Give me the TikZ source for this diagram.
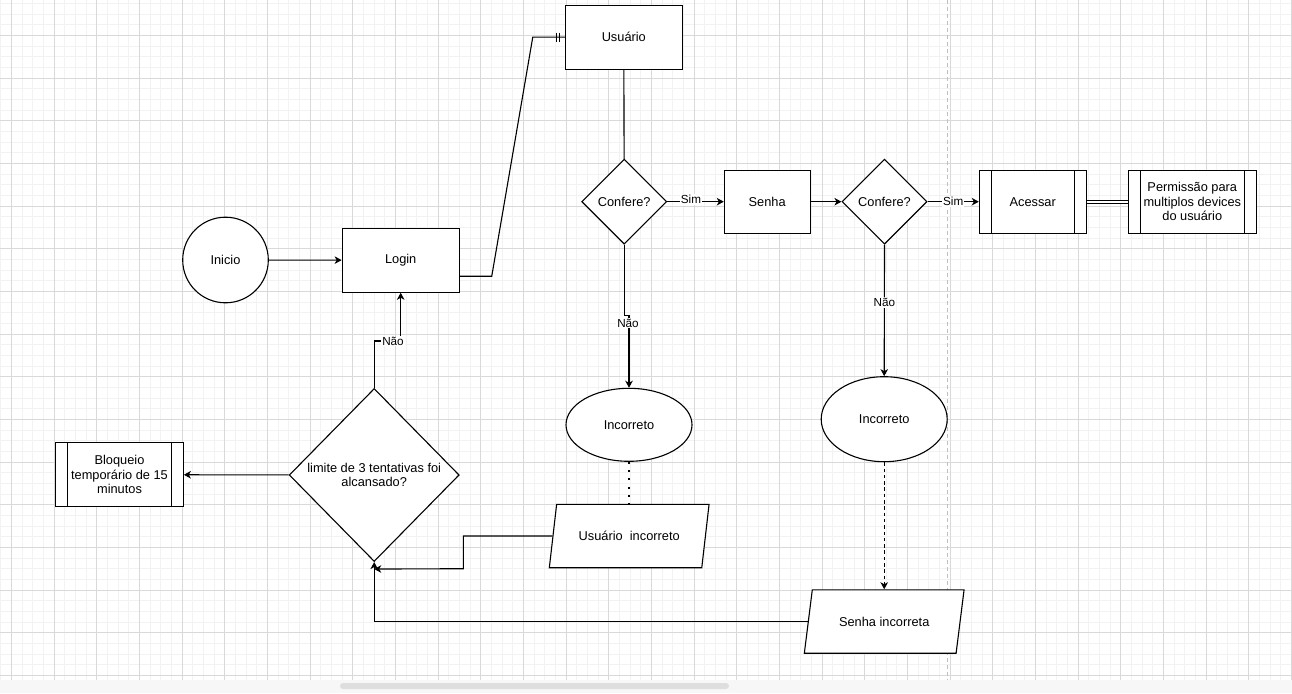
\documentclass[tikz,border=0pt]{standalone}
\usepackage{fontspec}
\setmainfont{Liberation Sans}
\usetikzlibrary{arrows.meta,shapes.geometric,calc}

\newcommand{\nodefont}{\fontsize{12.8}{14.6}\selectfont}
\newcommand{\lblfont}{\fontsize{11.7}{13}\selectfont}

\begin{document}
\begin{tikzpicture}[x=1pt,y=-1pt,
  minorgrid/.style={draw=black!5,line width=0.8pt},
  majorgrid/.style={draw=black!15,line width=0.9pt},
  box/.style={draw,fill=white,line width=1.1pt,inner sep=2pt,font=\nodefont,align=center,minimum width=117pt,minimum height=64pt},
  proc/.style={box,path picture={
      \draw[line width=1.1pt] ([xshift=12pt]path picture bounding box.north west) -- ([xshift=12pt]path picture bounding box.south west)
        ([xshift=-12pt]path picture bounding box.north east) -- ([xshift=-12pt]path picture bounding box.south east);}},
  dec/.style={diamond,draw,fill=white,line width=1.1pt,inner sep=0pt,font=\nodefont,align=center,minimum width=85pt,minimum height=85pt},
  term/.style={circle,draw,fill=white,line width=1.1pt,font=\nodefont,minimum size=85.6pt},
  oval/.style={ellipse,draw,fill=white,line width=1.1pt,font=\nodefont,minimum width=126pt,minimum height=73pt},
  io/.style={trapezium,trapezium left angle=71.5,trapezium right angle=108.5,trapezium stretches=true,
    draw,fill=white,line width=1.1pt,font=\nodefont,minimum width=160pt,minimum height=63.4pt},
  line/.style={line width=1.1pt},
  arr/.style={line,-{Stealth[length=7pt,width=7.5pt,inset=2pt]}},
  lbl/.style={fill=white,inner sep=1pt,font=\lblfont}
]
  \useasboundingbox (0,0) rectangle (1292,693);

  % Grid
  \foreach \i in {0,...,121}
    \draw[minorgrid] ({0.67+\i*10.667},0) -- ({0.67+\i*10.667},680);
  \foreach \j in {0,...,63}
    \draw[minorgrid] (0,{3.33+\j*10.667}) -- (1292,{3.33+\j*10.667});
  \foreach \i in {0,...,30}
    \draw[majorgrid] ({11.33+\i*42.667},0) -- ({11.33+\i*42.667},680);
  \foreach \j in {0,...,15}
    \draw[majorgrid] (0,{35.33+\j*42.667}) -- (1292,{35.33+\j*42.667});
  \draw[black!25,line width=0.9pt,dash pattern=on 4pt off 3pt] (947.7,0) -- (947.7,680);
  \fill[black!3] (0,680) rectangle (1292,693);
  \fill[black!13,rounded corners=3pt] (340,683) rectangle (729,689);

  % Nodes
  \node[term] (ini) at (225.5,260) {Inicio};
  \node[box] (log) at (400.7,260.2) {Login};
  \node[box] (usr) at (623.8,37.2) {Usuário};
  \node[dec] (cf1) at (624.2,201.7) {Confere?};
  \node[box,minimum width=85.7pt,minimum height=63.3pt] (snh) at (767.2,201.7) {Senha};
  \node[dec] (cf2) at (884.5,201.7) {Confere?};
  \node[proc,minimum width=106.7pt,minimum height=63.3pt] (acs) at (1032.7,201.7) {Acessar};
  \node[proc,minimum width=128pt,minimum height=63.3pt] (perm) at (1192.3,201.7) {Permissão para\\multiplos devices\\do usuário};
  \node[oval] (inc1) at (629,424.8) {Incorreto};
  \node[oval,minimum height=85pt] (inc2) at (884.2,419.2) {Incorreto};
  \node[io] (pin1) at (629.2,536) {Usuário\ \ incorreto};
  \node[io] (pin2) at (884.2,621.5) {Senha incorreta};
  \node[dec,minimum width=170pt,minimum height=173pt] (lim) at (374.2,475) {limite de 3 tentativas foi\\alcansado?};
  \node[proc,minimum width=127.6pt,minimum height=64pt] (blq) at (119.5,474.7) {Bloqueio\\temporário de 15\\minutos};

  % Connectors
  \draw[arr] (ini) -- (log);
  \draw[line] ([yshift=-16pt]log.east) -- ++(32,0) -- ([xshift=-32pt]usr.west) -- (usr.west);
  \draw[line] ([xshift=-8.5pt,yshift=4.5pt]usr.west) -- ([xshift=-8.5pt,yshift=-4.5pt]usr.west)
    ([xshift=-5.3pt,yshift=4.5pt]usr.west) -- ([xshift=-5.3pt,yshift=-4.5pt]usr.west);
  \draw[line] (usr) -- (cf1);
  \draw[arr] (cf1) -- node[lbl,pos=0.42,yshift=2pt] (sim1) {Sim} (snh);
  \draw[arr] (snh) -- (cf2);
  \draw[arr] (cf2) -- node[lbl,pos=0.5] (sim2) {Sim} (acs);
  \draw[line,double,double distance=2.3pt,line width=0.9pt] (acs) -- (perm);
  \draw[arr] (cf1.south) -- ++(0,71) -| (inc1.north);
  \node[lbl] (nao1) at (628,323) {Não};
  \draw[arr] (cf2.south) -- node[lbl,pos=0.44] (nao2) {Não} (inc2.north);
  \draw[line,line width=1.4pt,dash pattern=on 2pt off 6.3pt] (inc1.south) -- (inc1.south |- pin1.top side);
  \draw[arr,dash pattern=on 3.5pt off 2.8pt] (inc2.south) -- (inc2.south |- pin2.top side);
  \coordinate (j1) at (463.3,568.7);
  \draw[arr] (pin1.left side) -| (j1) -- ([yshift=-7pt]lim.south);
  \draw[arr] (pin2.left side) -| (lim.south);
  \draw[arr] (lim) -- (blq);
  \draw[arr] (lim.north) -- ++(0,-47) -| (log.south);
  \node[lbl] (nao3) at (393,341) {Não};
\end{tikzpicture}
\end{document}
